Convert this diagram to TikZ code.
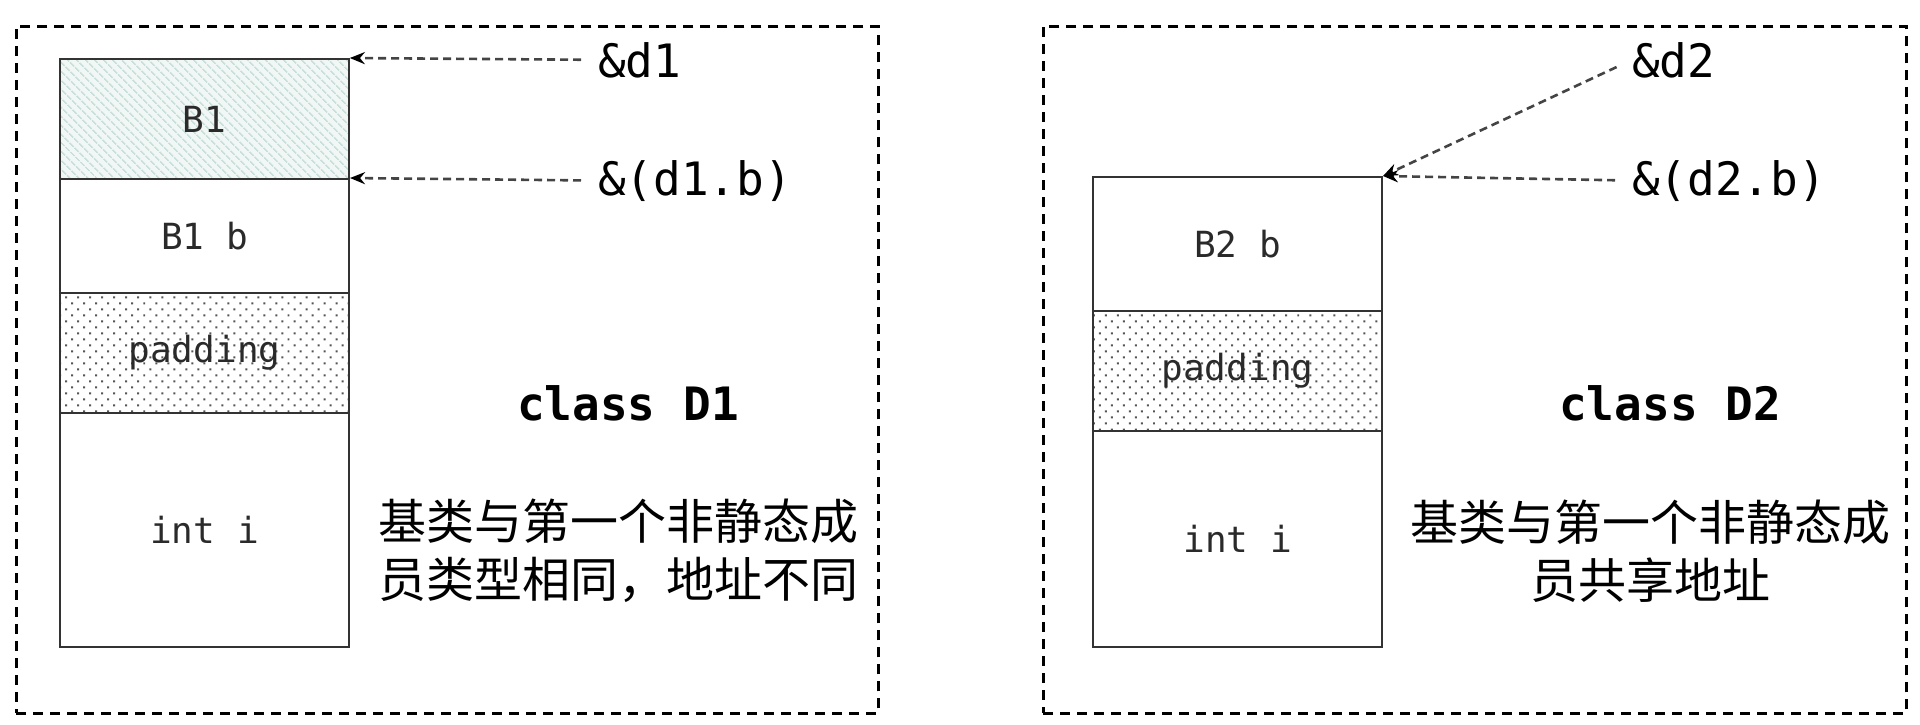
\documentclass[tikz,border=0pt]{standalone}
\usepackage{fontspec}
\setmonofont{DejaVu Sans Mono}
\newfontfamily\cjk{Noto Sans CJK SC}
\usetikzlibrary{patterns.meta,arrows.meta}
\definecolor{hatchbg}{HTML}{F0F7F5}
\definecolor{hatchln}{HTML}{C8DFDB}
\definecolor{boxgray}{HTML}{333333}
\definecolor{txtgray}{HTML}{2A2A2A}
\definecolor{dotgray}{HTML}{555555}
\definecolor{ptrgray}{HTML}{444444}
\tikzset{
  frame/.style={draw=black, line width=2.5pt, dash pattern=on 10pt off 7pt},
  cell/.style={draw=boxgray, line width=2pt, minimum width=289pt, inner sep=0pt,
    anchor=north west, text=txtgray, font=\ttfamily\fontsize{36}{40}\selectfont},
  hatched/.style={preaction={fill=hatchbg},
    pattern={Lines[angle=-45,distance=6.5pt,line width=1.8pt]}, pattern color=hatchln},
  dotted cell/.style={pattern={Dots[angle=45,distance=8.5pt,radius=1.4pt]}, pattern color=dotgray},
  addr/.style={anchor=base west, inner sep=0pt, text=black, font=\ttfamily\fontsize{46}{50}\selectfont},
  cls/.style={anchor=base, inner sep=0pt, text=black, font=\ttfamily\bfseries\fontsize{46}{50}\selectfont},
  note/.style={align=center, inner sep=0pt, text=black, font=\cjk\fontsize{48}{58}\selectfont},
  ptr/.style={draw=ptrgray, line width=2.6pt, dash pattern=on 8pt off 5pt,
    -{Stealth[length=15pt,width=12pt,color=black]}, shorten <=17pt}
}
\begin{document}
\begin{tikzpicture}[x=1pt,y=-1pt]
\useasboundingbox (0,0) rectangle (1920,724);
% left panel
\node[frame, minimum width=862pt, minimum height=687pt, inner sep=0pt, anchor=north west] (f1) at (15,25) {};
\node[cell, hatched, minimum height=120pt] (b1) at (59,58) {B1};
\node[cell, minimum height=114pt] (b1b) at (59,178) {B1 b};
\node[cell, dotted cell, minimum height=120pt] (p1) at (59,292) {padding};
\node[cell, minimum height=234pt] (i1) at (59,412) {int i};
\node[addr] (l1) at (598,77) {\&d1};
\node[addr] (l2) at (598,195) {\&(d1.b)};
\node[cls] (c1) at (628,420) {class D1};
\node[note] (n1) at (618,551) {基类与第一个非静态成\\员类型相同，地址不同};
\draw[ptr] (l1.west) -- (b1.north east);
\draw[ptr] (l2.west) -- (b1b.north east);
% right panel
\node[frame, minimum width=863pt, minimum height=687pt, inner sep=0pt, anchor=north west] (f2) at (1042,25) {};
\node[cell, minimum height=134pt] (b2b) at (1092,176) {B2 b};
\node[cell, dotted cell, minimum height=120pt] (p2) at (1092,310) {padding};
\node[cell, minimum height=216pt] (i2) at (1092,430) {int i};
\node[addr] (l3) at (1632,77) {\&d2};
\node[addr] (l4) at (1632,195) {\&(d2.b)};
\node[cls] (c2) at (1670,420) {class D2};
\node[note] (n2) at (1650,551) {基类与第一个非静态成\\员共享地址};
\draw[ptr] (l3.west) -- (b2b.north east);
\draw[ptr] (l4.west) -- (b2b.north east);
\end{tikzpicture}
\end{document}
